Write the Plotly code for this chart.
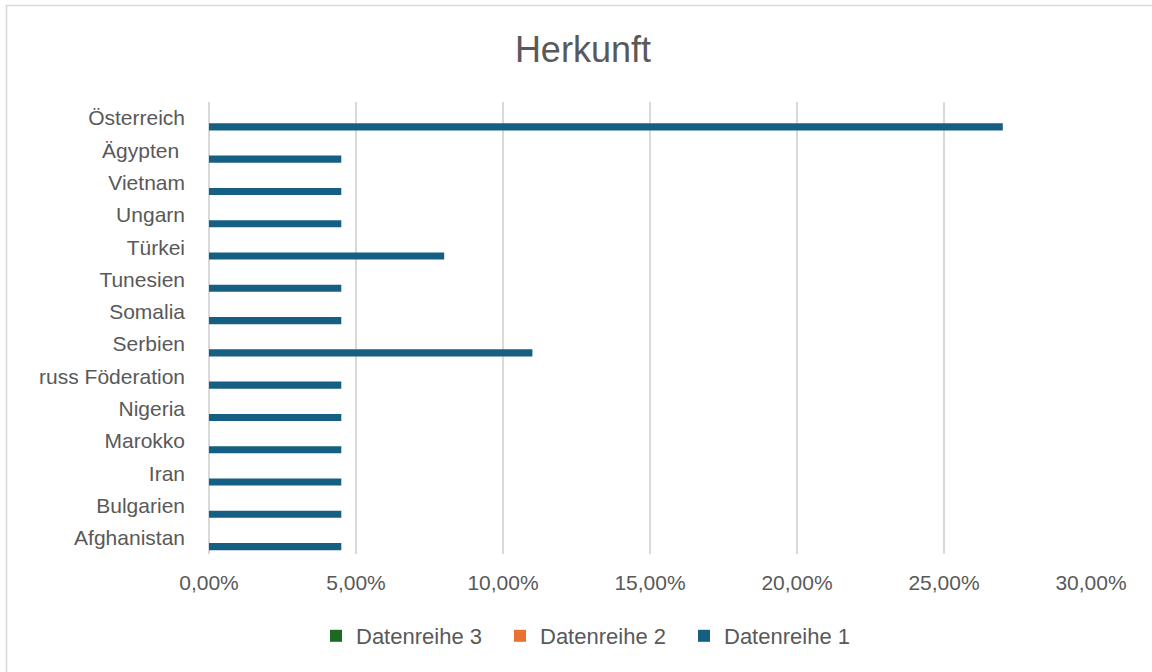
import plotly.graph_objects as go

categories = ["Afghanistan", "Bulgarien", "Iran", "Marokko", "Nigeria", "russ Föderation",
              "Serbien", "Somalia", "Tunesien", "Türkei", "Ungarn", "Vietnam", "Ägypten\u00a0", "Österreich"]
reihe1 = [0.045, 0.045, 0.045, 0.045, 0.045, 0.045, 0.11, 0.045, 0.045, 0.08, 0.045, 0.045, 0.045, 0.27]
reihe2 = [0] * len(categories)
reihe3 = [0] * len(categories)
x_ticks = [0, 0.05, 0.10, 0.15, 0.20, 0.25, 0.30]

W, H = 1152, 672
L, R, T, B = 209, 61, 102, 118
pw, ph = W - L - R, H - T - B

fig = go.Figure()
fig.add_trace(go.Bar(y=categories, x=reihe1, orientation="h", name="Datenreihe 1",
                     marker=dict(color="#156082", line=dict(width=0)), width=0.22, offset=-0.38))
fig.add_trace(go.Bar(y=categories, x=reihe2, orientation="h", name="Datenreihe 2",
                     marker=dict(color="#E97132", line=dict(width=0)), width=0.22, offset=-0.16))
fig.add_trace(go.Bar(y=categories, x=reihe3, orientation="h", name="Datenreihe 3",
                     marker=dict(color="#196B24", line=dict(width=0)), width=0.22, offset=0.06))

font_fam = "Liberation Sans, Arial, sans-serif"
fig.update_layout(
    width=W, height=H, autosize=False,
    margin=dict(l=L, r=R, t=T, b=B, pad=0),
    paper_bgcolor="white", plot_bgcolor="white",
    separators=",.",
    barmode="overlay",
    font=dict(family=font_fam, size=21, color="#595959"),
    title=dict(text="Herkunft", x=0.506, xanchor="center", y=1 - 49 / H, yanchor="middle",
               font=dict(family=font_fam, size=36, color="#595959")),
    xaxis=dict(range=[0, 0.30], tickvals=x_ticks, tickformat=".2%",
               showgrid=True, gridcolor="#d9d9d9", gridwidth=1.5,
               zeroline=True, zerolinecolor="#d9d9d9", zerolinewidth=1.5,
               showline=False, ticks="", ticklabelstandoff=14, fixedrange=True),
    yaxis=dict(categoryorder="array", categoryarray=categories, type="category",
               showgrid=False, zeroline=False, showline=False, ticks="",
               ticklabelstandoff=23, range=[-0.5, len(categories) - 0.5], fixedrange=True),
    legend=dict(orientation="h", traceorder="reversed", x=(592 - L) / pw, xanchor="center",
                y=(ph - (636 - T)) / ph, yanchor="middle",
                font=dict(family=font_fam, size=22, color="#595959"), itemwidth=30,
                entrywidth=139, entrywidthmode="pixels"),
    showlegend=True,
    shapes=[dict(type="rect", xref="paper", yref="paper",
                 x0=(6.5 - L) / pw, x1=2, y0=-1, y1=(ph - (5.5 - T)) / ph,
                 line=dict(color="#d9d9d9", width=1.5), fillcolor="rgba(0,0,0,0)", layer="below")],
)

fig.write_html("out.html", config={"displayModeBar": False},
               post_script="document.body.style.margin='0';document.body.style.padding='0';")
